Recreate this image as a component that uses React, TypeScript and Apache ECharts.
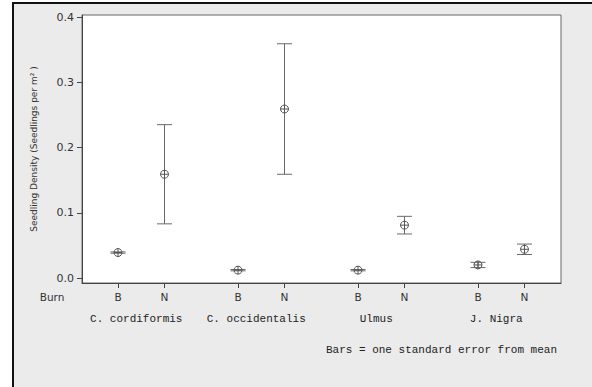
import React, { useEffect, useRef } from "react";
import * as echarts from "echarts";

const species = ["C. cordiformis", "C. occidentalis", "Ulmus", "J. Nigra"];
const burnLabels = ["B", "N"];
const meanB = [0.039, 0.012, 0.012, 0.02];
const seB = [0.001, 0.001, 0.001, 0.004];
const meanN = [0.159, 0.259, 0.081, 0.044];
const seN = [0.076, 0.1, 0.0135, 0.008];
const yTicks = [0, 0.1, 0.2, 0.3, 0.4];
const yAxisTitle = "Seedling Density (Seedlings per m² )";
const factorTitle = "Burn";
const noteText = "Bars = one standard error from mean";

// layout of the x positions (axis units)
const groupStep = 120;
const pairGap = 46.5;

export default function App() {
  const ref = useRef<HTMLDivElement>(null);
  useEffect(() => {
    if (!ref.current) return;
    const chart = echarts.init(ref.current, null, { renderer: "svg" });

    const positions: number[] = [];
    const points: number[][] = [];
    species.forEach((_, g) => {
      [meanB, meanN].forEach((arr, b) => {
        const x = g * groupStep + b * pairGap;
        positions.push(x);
        const se = b === 0 ? seB[g] : seN[g];
        points.push([x, arr[g], se]);
      });
    });
    const centers = species.map((_, g) => g * groupStep + pairGap / 2);
    const nearest = (v: number, arr: number[]) => {
      let bi = 0;
      arr.forEach((p, i) => {
        if (Math.abs(p - v) < Math.abs(arr[bi] - v)) bi = i;
      });
      return bi;
    };

    const sans = "DejaVu Sans";
    const mono = "Liberation Mono";

    chart.setOption({
      animation: false,
      backgroundColor: "#ffffff",
      grid: {
        left: 82,
        top: 15,
        right: 31,
        bottom: 104,
        show: true,
        backgroundColor: "#ffffff",
        borderColor: "#666",
        borderWidth: 1,
      },
      xAxis: [
        {
          type: "value",
          min: -36,
          max: 443,
          splitLine: { show: false },
          axisLine: { show: true, onZero: false, lineStyle: { color: "#444", width: 1 } },
          axisTick: { show: true, length: 5, customValues: positions, lineStyle: { color: "#444" } },
          axisLabel: {
            customValues: positions,
            margin: 8,
            color: "#333",
            fontFamily: sans,
            fontSize: 10.5,
            formatter: (v: number) => burnLabels[nearest(v, positions) % 2],
          },
        },
        {
          type: "value",
          position: "bottom",
          min: -36,
          max: 443,
          splitLine: { show: false },
          axisLine: { show: false },
          axisTick: { show: false },
          axisLabel: {
            customValues: centers,
            margin: 30,
            color: "#222",
            fontFamily: mono,
            fontSize: 11,
            padding: [0, 10, 0, 0],
            formatter: (v: number) => species[nearest(v, centers)],
          },
        },
      ],
      yAxis: {
        type: "value",
        min: -0.00766,
        max: 0.40307,
        splitLine: { show: false },
        axisLine: { show: true, onZero: false, lineStyle: { color: "#444", width: 1 } },
        axisTick: { show: true, length: 5, customValues: yTicks, lineStyle: { color: "#444" } },
        axisLabel: {
          customValues: yTicks,
          margin: 8,
          color: "#333",
          fontFamily: sans,
          fontSize: 11,
          formatter: (v: number) => v.toFixed(1),
        },
        name: yAxisTitle,
        nameLocation: "middle",
        nameGap: 44,
        nameTextStyle: { color: "#333", fontFamily: sans, fontSize: 9 },
      },
      graphic: [
        {
          type: "rect",
          shape: { x: 13, y: 3, width: 579, height: 384 },
          style: { fill: "#ebebeb" },
          z: -10,
          silent: true,
        },
        {
          type: "line",
          shape: { x1: 12, y1: 3, x2: 592, y2: 3 },
          style: { stroke: "#111", lineWidth: 2 },
        },
        {
          type: "line",
          shape: { x1: 13, y1: 2, x2: 13, y2: 387 },
          style: { stroke: "#111", lineWidth: 2 },
        },
        {
          type: "text",
          x: 52,
          y: 297,
          style: {
            text: factorTitle,
            fill: "#333",
            font: `10.5px "${sans}"`,
            align: "center",
            verticalAlign: "middle",
          },
        },
        {
          type: "text",
          x: 557,
          y: 350,
          style: {
            text: noteText,
            fill: "#222",
            font: `11px "${mono}"`,
            align: "right",
            verticalAlign: "middle",
          },
        },
      ],
      series: [
        {
          type: "custom",
          xAxisIndex: 0,
          data: points,
          renderItem: (params: any, api: any) => {
            const x = api.value(0);
            const m = api.value(1);
            const se = api.value(2);
            const c = api.coord([x, m]);
            const hi = api.coord([x, m + se]);
            const lo = api.coord([x, m - se]);
            const capW = 7.5;
            const r = 4;
            const barStyle = { stroke: "#6a6a6a", lineWidth: 1 };
            const mk = { stroke: "#555", lineWidth: 1, fill: "none" };
            return {
              type: "group",
              children: [
                { type: "line", shape: { x1: c[0], y1: hi[1], x2: c[0], y2: lo[1] }, style: barStyle },
                { type: "line", shape: { x1: c[0] - capW, y1: hi[1], x2: c[0] + capW, y2: hi[1] }, style: barStyle },
                { type: "line", shape: { x1: c[0] - capW, y1: lo[1], x2: c[0] + capW, y2: lo[1] }, style: barStyle },
                { type: "circle", shape: { cx: c[0], cy: c[1], r }, style: mk },
                { type: "line", shape: { x1: c[0] - r, y1: c[1], x2: c[0] + r, y2: c[1] }, style: mk },
                { type: "line", shape: { x1: c[0], y1: c[1] - r, x2: c[0], y2: c[1] + r }, style: mk },
              ],
            };
          },
        },
      ],
    });
    return () => chart.dispose();
  }, []);
  return (
    <div
      ref={ref}
      style={{ position: "absolute", left: 0, top: 0, width: 592, height: 387 }}
    />
  );
}
